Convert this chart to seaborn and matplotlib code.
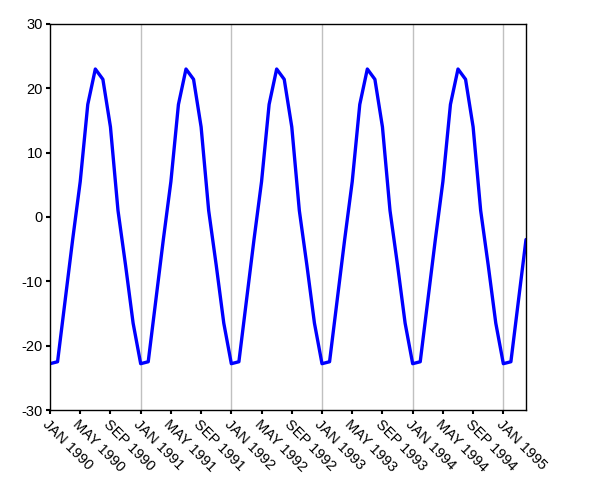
import matplotlib
matplotlib.use("Agg")
import matplotlib.pyplot as plt
import seaborn as sns
import pandas as pd

# Monthly values (same seasonal cycle each year), Jan 1990 .. Apr 1995
cycle = [-22.8, -22.5, -13.0, -3.5, 5.5, 17.5, 23.0, 21.4, 14.0, 1.0, -7.5, -16.5]
values = cycle * 5 + [-22.8, -22.5, -13.0, -3.5]
months = list(range(len(values)))
tick_labels = ["JAN 1990", "MAY 1990", "SEP 1990", "JAN 1991", "MAY 1991", "SEP 1991",
               "JAN 1992", "MAY 1992", "SEP 1992", "JAN 1993", "MAY 1993", "SEP 1993",
               "JAN 1994", "MAY 1994", "SEP 1994", "JAN 1995"]

df = pd.DataFrame({"month": months, "value": values})

sns.set_style("white")
plt.rcParams["font.family"] = ["Liberation Sans", "DejaVu Sans"]
plt.rcParams["axes.unicode_minus"] = False

fig = plt.figure(figsize=(6, 4.8), dpi=100)
ax = fig.add_axes([50/600, 1-410/480, 476/600, 386/480])

# year gridlines (each January)
jan_positions = [m for m in months if m % 12 == 0 and m > 0]
for xp in jan_positions:
    ax.axvline(xp, color="#c0c0c0", linewidth=1, zorder=0)

sns.lineplot(data=df, x="month", y="value", color="#0000FF", linewidth=2.4, ax=ax, zorder=2)

ax.set_xlim(0, len(values) - 1)
ax.set_ylim(-30, 30)
ax.set_yticks(range(-30, 31, 10))
ax.set_xticks(range(0, 4 * len(tick_labels), 4))
ax.set_xticklabels(tick_labels, rotation=-45, ha="left", va="top", rotation_mode="anchor")
ax.grid(False)
ax.set_xlabel("")
ax.set_ylabel("")

for s in ax.spines.values():
    s.set_visible(True)
    s.set_color("black")
    s.set_linewidth(1)

ax.tick_params(axis="both", which="major", direction="out", length=3, width=1.5,
               labelsize=10.5, colors="black", pad=2, bottom=True, left=True)

fig.savefig("out.png", dpi=100)
